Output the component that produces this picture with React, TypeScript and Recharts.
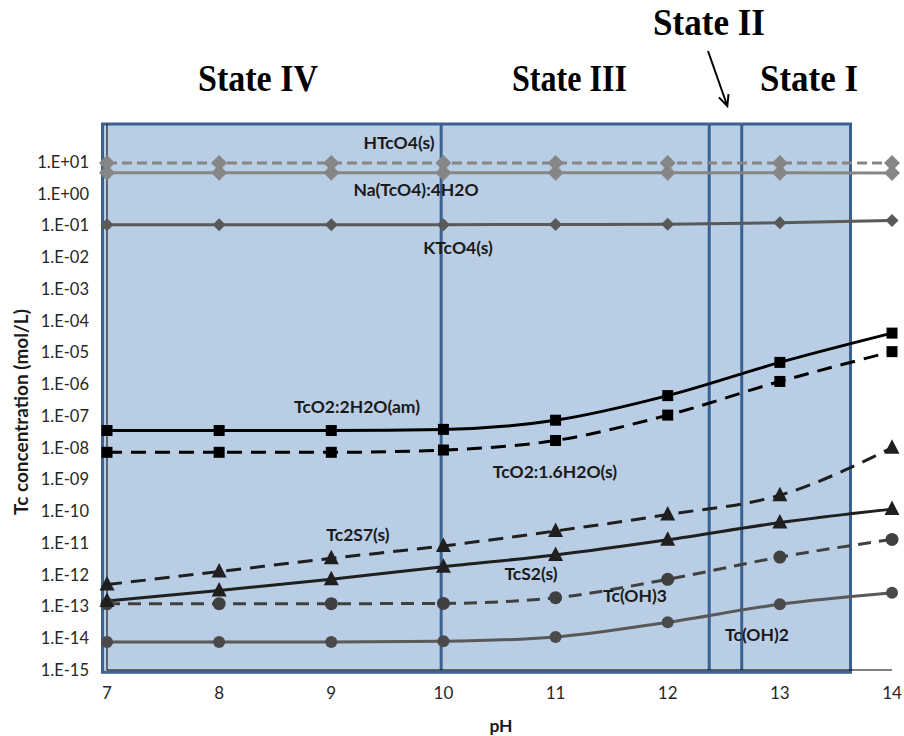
import { LineChart, Line, XAxis, YAxis, ReferenceArea, ReferenceLine } from 'recharts';

const PH = [7, 8, 9, 10, 11, 12, 13, 14];

const HTCO4 = [9.3, 9.3, 9.3, 9.3, 9.3, 9.3, 9.3, 9.3];
const NA_TCO4 = [4.6, 4.6, 4.6, 4.6, 4.6, 4.6, 4.6, 4.5];
const KTCO4 = [0.107, 0.107, 0.107, 0.107, 0.108, 0.11, 0.122, 0.145];
const TCO2_AM = [3.5e-8, 3.5e-8, 3.5e-8, 3.8e-8, 7.4e-8, 4.4e-7, 4.9e-6, 4.1e-5];
const TCO2_S = [7.2e-9, 7.2e-9, 7.2e-9, 8.5e-9, 1.7e-8, 1.07e-7, 1.23e-6, 1.07e-5];
const TC2S7 = [4.9e-13, 1.26e-12, 3.3e-12, 8.1e-12, 2.4e-11, 7.9e-11, 3.2e-10, 1.0e-8];
const TCS2 = [1.5e-13, 3.2e-13, 7.2e-13, 1.8e-12, 4.2e-12, 1.26e-11, 4.4e-11, 1.17e-10];
const TC_OH3 = [1.23e-13, 1.23e-13, 1.23e-13, 1.25e-13, 1.9e-13, 7.2e-13, 3.6e-12, 1.3e-11];
const TC_OH2 = [7.6e-15, 7.6e-15, 7.6e-15, 8e-15, 1.1e-14, 3.2e-14, 1.17e-13, 2.7e-13];

const Y_TICKS = [1e-15, 1e-14, 1e-13, 1e-12, 1e-11, 1e-10, 1e-9, 1e-8, 1e-7, 1e-6, 1e-5, 1e-4, 1e-3, 1e-2, 1e-1, 1, 10];
const X_TICKS = [7, 8, 9, 10, 11, 12, 13, 14];

// state boundaries (pH)
const STATE_LINES = [9.98, 12.37, 12.66];

const data = PH.map((ph, i) => ({
  ph,
  htco4: HTCO4[i],
  na: NA_TCO4[i],
  k: KTCO4[i],
  tco2am: TCO2_AM[i],
  tco2s: TCO2_S[i],
  tc2s7: TC2S7[i],
  tcs2: TCS2[i],
  oh3: TC_OH3[i],
  oh2: TC_OH2[i],
}));

const fmtExp = (v: number) => {
  const e = Math.round(Math.log10(v));
  const sign = e >= 0 ? '+' : '-';
  return `1.E${sign}${String(Math.abs(e)).padStart(2, '0')}`;
};

const diamond = (h: number, color: string) => (p: any) => {
  const { cx, cy, index } = p;
  return (
    <path
      key={`d${index}`}
      d={`M${cx},${cy - h} L${cx + h},${cy} L${cx},${cy + h} L${cx - h},${cy} Z`}
      fill={color}
    />
  );
};

const square = (h: number, color: string) => (p: any) => {
  const { cx, cy, index } = p;
  return <rect key={`s${index}`} x={cx - h} y={cy - h} width={h * 2} height={h * 2} fill={color} />;
};

const triangle = (color: string) => (p: any) => {
  const { cx, cy, index } = p;
  return (
    <path key={`t${index}`} d={`M${cx},${cy - 8.5} L${cx + 7.5},${cy + 6} L${cx - 7.5},${cy + 6} Z`} fill={color} />
  );
};

const circle = (r: number, color: string) => (p: any) => {
  const { cx, cy, index } = p;
  return <circle key={`c${index}`} cx={cx} cy={cy} r={r} fill={color} />;
};

const LABEL_FONT = 'Lato, "Noto Sans", sans-serif';
const SERIF = '"Liberation Serif", "DejaVu Serif", serif';

export default function App() {
  return (
    <div style={{ position: 'absolute', left: 0, top: 0, width: 904, height: 736, background: '#fff' }}>
      <LineChart
        width={904}
        height={736}
        data={data}
        margin={{ top: 124, right: 12, bottom: 26, left: 0 }}
      >
        <ReferenceArea
          x1={6.96}
          x2={13.63}
          y1={Math.pow(10, -15.07)}
          y2={Math.pow(10, 2.2)}
          fill="#b9cde5"
          fillOpacity={1}
          stroke="#3b6191"
          strokeWidth={3}
          ifOverflow="visible"
        />
        {STATE_LINES.map((x) => (
          <ReferenceLine key={x} x={x} stroke="#3b6191" strokeWidth={3} ifOverflow="visible" />
        ))}
        <XAxis
          dataKey="ph"
          type="number"
          domain={[7, 14]}
          ticks={X_TICKS}
          height={40}
          tickLine={false}
          tickMargin={11}
          axisLine={{ stroke: '#000', strokeWidth: 1 }}
          tick={{ fontFamily: LABEL_FONT, fontSize: 17, fill: '#262626' }}
        />
        <YAxis
          type="number"
          scale="log"
          domain={[1e-15, Math.pow(10, 2.2)]}
          allowDataOverflow
          ticks={Y_TICKS}
          tickFormatter={fmtExp}
          width={107}
          tickLine={false}
          tickMargin={12}
          axisLine={{ stroke: '#000', strokeWidth: 1 }}
          tick={{ fontFamily: LABEL_FONT, fontSize: 16.5, fill: '#262626' }}
        />
        <Line type="monotone" dataKey="na" stroke="#868686" strokeWidth={3} dot={diamond(8, '#868686')} activeDot={false} isAnimationActive={false} />
        <Line type="monotone" dataKey="htco4" stroke="#868686" strokeWidth={3} strokeDasharray="10 5" dot={diamond(8, '#868686')} activeDot={false} isAnimationActive={false} />
        <Line type="monotone" dataKey="k" stroke="#595959" strokeWidth={3} dot={diamond(6.5, '#595959')} activeDot={false} isAnimationActive={false} />
        <Line type="monotone" dataKey="oh2" stroke="#595959" strokeWidth={3} dot={circle(6, '#4a4a4a')} activeDot={false} isAnimationActive={false} />
        <Line type="monotone" dataKey="oh3" stroke="#404040" strokeWidth={3} strokeDasharray="13 8" dot={circle(6.5, '#404040')} activeDot={false} isAnimationActive={false} />
        <Line type="monotone" dataKey="tcs2" stroke="#1f1f1f" strokeWidth={3} dot={triangle('#1f1f1f')} activeDot={false} isAnimationActive={false} />
        <Line type="monotone" dataKey="tc2s7" stroke="#1f1f1f" strokeWidth={3} strokeDasharray="15 9" dot={triangle('#1f1f1f')} activeDot={false} isAnimationActive={false} />
        <Line type="monotone" dataKey="tco2s" stroke="#000" strokeWidth={3} strokeDasharray="15 9" dot={square(5.5, '#000')} activeDot={false} isAnimationActive={false} />
        <Line type="monotone" dataKey="tco2am" stroke="#000" strokeWidth={3} dot={square(5.5, '#000')} activeDot={false} isAnimationActive={false} />
      </LineChart>

      <svg width={904} height={736} style={{ position: 'absolute', left: 0, top: 0, pointerEvents: 'none' }}>
        <g fontFamily={SERIF} fontWeight="bold" fontSize={37} fill="#000">
          <text x={198} y={91} textLength={120} lengthAdjust="spacingAndGlyphs">State IV</text>
          <text x={512} y={91} textLength={115} lengthAdjust="spacingAndGlyphs">State III</text>
          <text x={653} y={35} textLength={112} lengthAdjust="spacingAndGlyphs">State II</text>
          <text x={760} y={91} textLength={98} lengthAdjust="spacingAndGlyphs">State I</text>
        </g>
        <g stroke="#000" strokeWidth={2} fill="none">
          <line x1={708} y1={51} x2={727} y2={105} />
          <polyline points="718.9,97.4 727.3,106 728.5,94.1" />
        </g>
        <g fontFamily={LABEL_FONT} fontWeight="bold" fontSize={17.5} fill="#1a1a1a" textAnchor="middle" dominantBaseline="central">
          <text x={399} y={142}>HTcO4(s)</text>
          <text x={416} y={189}>Na(TcO4):4H2O</text>
          <text x={458} y={247}>KTcO4(s)</text>
          <text x={357} y={406}>TcO2:2H2O(am)</text>
          <text x={555} y={471}>TcO2:1.6H2O(s)</text>
          <text x={358} y={534}>Tc2S7(s)</text>
          <text x={531} y={573}>TcS2(s)</text>
          <text x={635} y={595}>Tc(OH)3</text>
          <text x={757} y={634}>Tc(OH)2</text>
          <text x={501} y={725}>pH</text>
          <text x={20} y={412} fontSize={19} transform="rotate(-90 20 412)">Tc concentration (mol/L)</text>
        </g>
      </svg>
    </div>
  );
}
